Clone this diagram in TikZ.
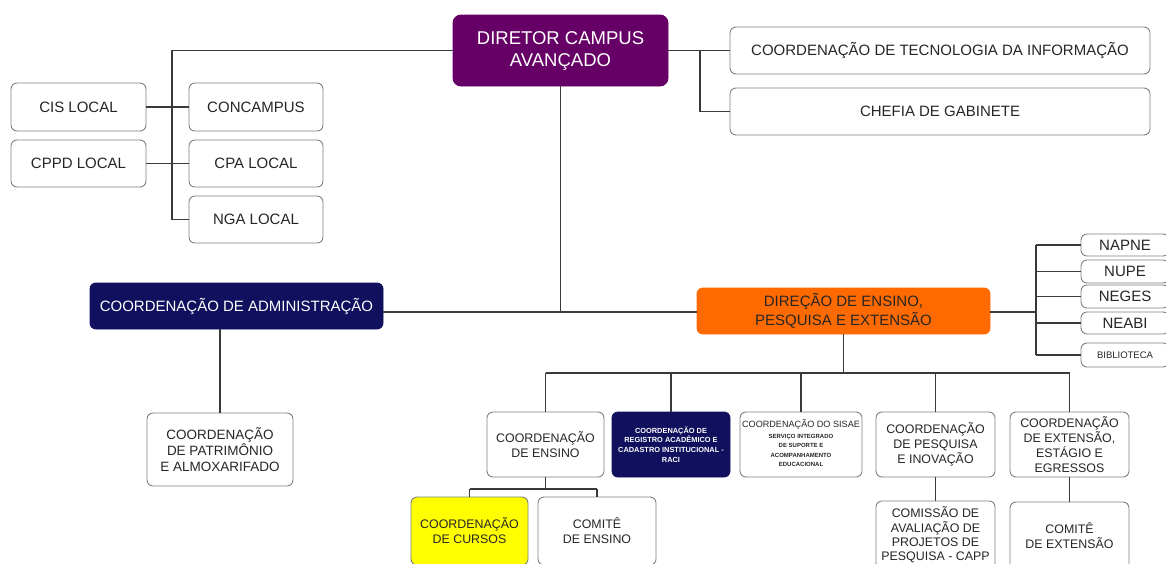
\documentclass[tikz,border=0pt]{standalone}
\usepackage{fontspec}
\setmainfont{Liberation Sans}
\definecolor{dirpurple}{HTML}{660066}
\definecolor{navy}{HTML}{10105E}
\definecolor{orng}{HTML}{FF6A00}
\definecolor{yell}{HTML}{FFFF00}
\definecolor{bordergray}{HTML}{808080}
\definecolor{txt}{HTML}{262626}
\definecolor{linegray}{HTML}{3A3A3A}
\tikzset{
  box/.style={draw=bordergray, line width=0.9pt, rounded corners=6pt, fill=white, align=center, inner sep=0pt, text=txt},
  conn/.style={draw=linegray, line width=1.1pt},
  fbig/.style={font=\fontsize{18.5}{22}\selectfont},
  fmid/.style={font=\fontsize{15}{19}\selectfont},
  fsm/.style={font=\fontsize{12.4}{14.8}\selectfont},
}
\begin{document}
\begin{tikzpicture}[x=1pt,y=-1pt]
\useasboundingbox (0,0) rectangle (1166,563);
\clip (0,0) rectangle (1166,563);
\fill[white] (0,0) rectangle (1166,563);

% top
\node[box, fbig, fill=dirpurple, draw=dirpurple, text=white, rounded corners=8pt, minimum width=215pt, minimum height=71pt] (dir) at (560.5,50.5) {DIRETOR CAMPUS\\AVANÇADO};
\node[box, fmid, minimum width=420pt, minimum height=47pt] (ti) at (940,50.5) {COORDENAÇÃO DE TECNOLOGIA DA INFORMAÇÃO};
\node[box, fmid, minimum width=420pt, minimum height=47pt] (chefia) at (940,111.5) {CHEFIA DE GABINETE};

% left group
\node[box, fmid, minimum width=135pt, minimum height=48pt] (cis) at (78.5,107) {CIS LOCAL};
\node[box, fmid, minimum width=135pt, minimum height=47pt] (cppd) at (78.5,163.5) {CPPD LOCAL};
\node[box, fmid, minimum width=134pt, minimum height=48pt] (concampus) at (256,107) {CONCAMPUS};
\node[box, fmid, minimum width=134pt, minimum height=47pt] (cpa) at (256,163.5) {CPA LOCAL};
\node[box, fmid, minimum width=134pt, minimum height=47pt] (nga) at (256,219.5) {NGA LOCAL};

% middle
\node[box, fmid, fill=navy, draw=navy, text=white, minimum width=293pt, minimum height=46pt] (admin) at (236.5,306) {COORDENAÇÃO DE ADMINISTRAÇÃO};
\node[box, fmid, fill=orng, draw=orng, minimum width=293pt, minimum height=46pt] (direcao) at (843.5,311) {DIREÇÃO DE ENSINO,\\PESQUISA E EXTENSÃO};

% right column
\node[box, fmid, minimum width=88pt, minimum height=22pt] (napne) at (1125,245) {NAPNE};
\node[box, fmid, minimum width=88pt, minimum height=23pt] (nupe) at (1125,271.5) {NUPE};
\node[box, fmid, minimum width=88pt, minimum height=23pt] (neges) at (1125,296.5) {NEGES};
\node[box, fmid, minimum width=88pt, minimum height=22pt] (neabi) at (1125,323) {NEABI};
\node[box, font=\fontsize{9.5}{11}\selectfont, minimum width=88pt, minimum height=24pt] (biblio) at (1125,355) {BIBLIOTECA};

% admin child
\node[box, font=\fontsize{13.5}{16}\selectfont, minimum width=146pt, minimum height=73pt] (patrim) at (220,449.5) {COORDENAÇÃO\\DE PATRIMÔNIO\\E ALMOXARIFADO};

% direcao children
\node[box, fsm, minimum width=117pt, minimum height=65pt] (ensino) at (545.5,444.5) {COORDENAÇÃO\\DE ENSINO};
\node[box, font=\bfseries\fontsize{7.4}{9.8}\selectfont, fill=navy, draw=navy, text=white, minimum width=118pt, minimum height=65pt] (raci) at (671,444.5) {COORDENAÇÃO DE\\REGISTRO ACADÊMICO E\\CADASTRO INSTITUCIONAL -\\RACI};
\node[box, font=\fontsize{9.1}{11}\selectfont, minimum width=122pt, minimum height=65pt] (sisae) at (801,444.5) {COORDENAÇÃO DO SISAE\\[1.5pt]\fontsize{6}{9.3}\selectfont\bfseries\begin{tabular}{@{}c@{}}SERVIÇO INTEGRADO\\DE SUPORTE E\\ACOMPANHAMENTO\\EDUCACIONAL\end{tabular}};
\node[box, fsm, minimum width=119pt, minimum height=65pt] (pesq) at (935.5,444.5) {COORDENAÇÃO\\DE PESQUISA\\E INOVAÇÃO};
\node[box, fsm, minimum width=119pt, minimum height=65pt] (ext) at (1069.5,444.5) {COORDENAÇÃO\\DE EXTENSÃO,\\ESTÁGIO E\\EGRESSOS};

% bottom row
\node[box, fsm, fill=yell, minimum width=117pt, minimum height=68pt] (cursos) at (469.5,531) {COORDENAÇÃO\\DE CURSOS};
\node[box, fsm, minimum width=118pt, minimum height=68pt] (comens) at (597,531) {COMITÊ\\DE ENSINO};
\node[box, font=\fontsize{12.4}{14.2}\selectfont, minimum width=119pt, minimum height=68pt] (capp) at (935.5,535) {COMISSÃO DE\\AVALIAÇÃO DE\\PROJETOS DE\\PESQUISA - CAPP};
\node[box, fsm, minimum width=119pt, minimum height=68pt] (comext) at (1069.5,536) {COMITÊ\\DE EXTENSÃO};

% junction coordinates
\coordinate (jl) at (172,50.5);
\coordinate (jr) at (700,50.5);
\coordinate (jmid) at (560.5,312);
\coordinate (jdr) at (1036,312);
\coordinate (jd) at (843.5,373);
\coordinate (je) at (545.5,489);

% connectors
\draw[conn] (dir.west) -- (jl) |- (nga.west);
\draw[conn] (cis.east) -- (concampus.west);
\draw[conn] (cppd.east) -- (cpa.west);
\draw[conn] (dir.east) -- (ti.west);
\draw[conn] (jr) |- (chefia.west);
\draw[conn] (dir.south) -- (jmid);
\draw[conn] (admin.east |- jmid) -- (jmid) -- (jmid -| direcao.west);
\draw[conn] (patrim.north |- admin.south) -- (patrim.north);

\draw[conn] (direcao.east |- jdr) -- (jdr);
\draw[conn] (jdr |- napne.west) -- (jdr |- biblio.west);
\foreach \n in {napne,nupe,neges,neabi,biblio}
  \draw[conn] (jdr |- \n.west) -- (\n.west);

\draw[conn] (direcao.south) -- (jd);
\draw[conn] (jd -| ensino.north) -- (jd -| ext.north);
\foreach \n in {ensino,raci,sisae,pesq,ext}
  \draw[conn] (jd -| \n.north) -- (\n.north);

\draw[conn] (ensino.south) -- (je);
\draw[conn] (je -| cursos.north) -- (je -| comens.north);
\draw[conn] (je -| cursos.north) -- (cursos.north);
\draw[conn] (je -| comens.north) -- (comens.north);
\draw[conn] (pesq.south) -- (capp.north);
\draw[conn] (ext.south) -- (comext.north);
\end{tikzpicture}
\end{document}
